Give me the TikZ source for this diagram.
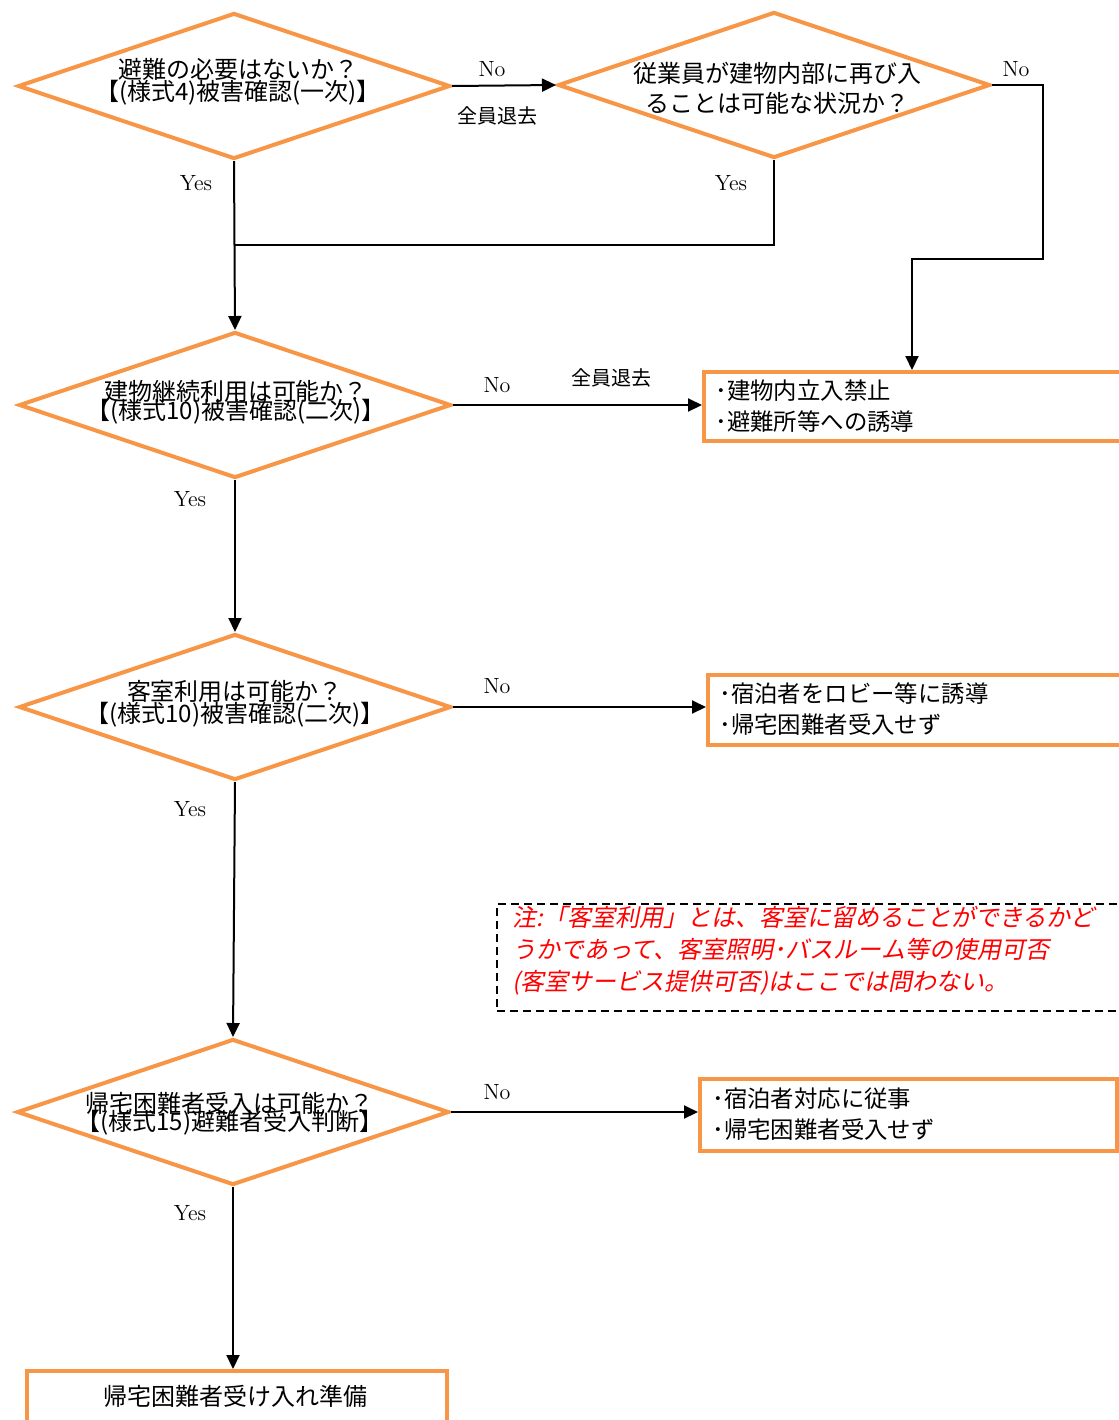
\documentclass[tikz,border=0pt]{standalone}
\usepackage{fontspec}
\newfontfamily\jp{Noto Sans CJK JP}
\newfontfamily\jpit[FakeSlant=0.2]{Noto Sans CJK JP}
\usetikzlibrary{shapes.geometric,arrows.meta}
\definecolor{orng}{RGB}{247,150,70}
\definecolor{notered}{RGB}{255,0,0}
\tikzset{
  dia/.style={diamond, draw=orng, line width=2pt, minimum width=216pt, minimum height=73pt, inner sep=0pt},
  rbox/.style={rectangle, draw=orng, line width=2pt, anchor=north west, inner sep=0pt},
  notebox/.style={rectangle, draw=black, line width=0.8pt, dash pattern=on 4pt off 2.5pt, anchor=north west, inner sep=0pt},
  qtext/.style={font={\jp\fontsize{12}{#1}\selectfont\lineskiplimit=-20pt}, align=center, inner sep=0pt},
  btext/.style={font={\jp\fontsize{11.7}{15.5}\selectfont\lineskiplimit=-20pt}, align=left, anchor=west, inner sep=0pt},
  lbl/.style={font=\fontsize{11}{13}\selectfont, inner sep=0pt},
  jlbl/.style={font=\jp\fontsize{10}{12}\selectfont, inner sep=0pt},
  arr/.style={draw=black, line width=1pt, -{Triangle[length=7pt,width=6.5pt]}},
  ln/.style={draw=black, line width=1pt},
}
\begin{document}
\begin{tikzpicture}[x=0.5pt,y=-0.5pt]
\path[use as bounding box, clip] (0,0) rectangle (1119,1420);
% diamonds
\node[dia] (d1) at (234,86) {};
\node[dia] (d2) at (774,85) {};
\node[dia] (d3) at (235,405) {};
\node[dia] (d4) at (235,707) {};
\node[dia] (d5) at (233,1112) {};
% diamond texts
\node[qtext=11] (t1) at (238,82) {避難の必要はないか？\\【(様式4)被害確認(一次)】};
\node[qtext=15] (t2) at (777,88) {従業員が建物内部に再び入\\ることは可能な状況か？};
\node[qtext=9.5] (t3) at (236,402) {建物継続利用は可能か？\\【(様式10)被害確認(二次)】};
\node[qtext=11] (t4) at (235,704) {客室利用は可能か？\\【(様式10)被害確認(二次)】};
\node[qtext=9] (t5) at (230,1114) {帰宅困難者受入は可能か？\\【(様式15)避難者受入判断】};
% boxes
\node[rbox, minimum width=225pt, minimum height=34.5pt] (b1) at (702,370) {};
\node[btext] (bt1) at (715,406) {･建物内立入禁止\\･避難所等への誘導};
\node[rbox, minimum width=225pt, minimum height=35pt] (b2) at (706,673) {};
\node[btext] (bt2) at (719,709) {･宿泊者をロビー等に誘導\\･帰宅困難者受入せず};
\node[rbox, minimum width=208.5pt, minimum height=36pt] (b3) at (698,1077) {};
\node[btext] (bt3) at (712,1114) {･宿泊者対応に従事\\･帰宅困難者受入せず};
\node[rbox, minimum width=210pt, minimum height=40pt] (b4) at (25,1369) {};
\node[qtext=12] (bt4) at (235,1396) {帰宅困難者受け入れ準備};
% note
\node[notebox, minimum width=320pt, minimum height=53.5pt] (note) at (496,903) {};
\node[font={\jpit\fontsize{12}{16}\selectfont\lineskiplimit=-20pt}, text=notered, align=left, anchor=west, inner sep=0pt] (nt) at (512,951)
  {注:「客室利用」とは、客室に留めることができるかど\\うかであって、客室照明･バスルーム等の使用可否\\(客室サービス提供可否)はここでは問わない。};
% coordinates
\coordinate (j1) at (234,245);
\coordinate (k1) at (1043,259);
\coordinate (k2) at (912,0);
% connectors
\draw[arr] (d1.east) -- (d2.west);
\draw[arr] (d2.east) -| (k1) -| (b1.north -| k2);
\draw[arr] (d1.south) -- (d3.north);
\draw[ln] (d2.south) |- (j1);
\draw[arr] (d3.east) -- (d3.east -| b1.west);
\draw[arr] (d3.south) -- (d4.north);
\draw[arr] (d4.east) -- (d4.east -| b2.west);
\draw[arr] (d4.south) -- (d5.north);
\draw[arr] (d5.east) -- (d5.east -| b3.west);
\draw[arr] (d5.south) -- (d5.south |- b4.north);
% labels
\node[lbl] (n1) at (492,69) {No};
\node[jlbl] (w1) at (497,116) {全員退去};
\node[lbl] (n2) at (1016,69) {No};
\node[lbl] (y1) at (196,183) {Yes};
\node[lbl] (y2) at (731,183) {Yes};
\node[lbl] (n3) at (497,385) {No};
\node[jlbl] (w2) at (611,378) {全員退去};
\node[lbl] (y3) at (190,499) {Yes};
\node[lbl] (n4) at (497,686) {No};
\node[lbl] (y4) at (190,809) {Yes};
\node[lbl] (n5) at (497,1092) {No};
\node[lbl] (y5) at (190,1213) {Yes};
\end{tikzpicture}
\end{document}
